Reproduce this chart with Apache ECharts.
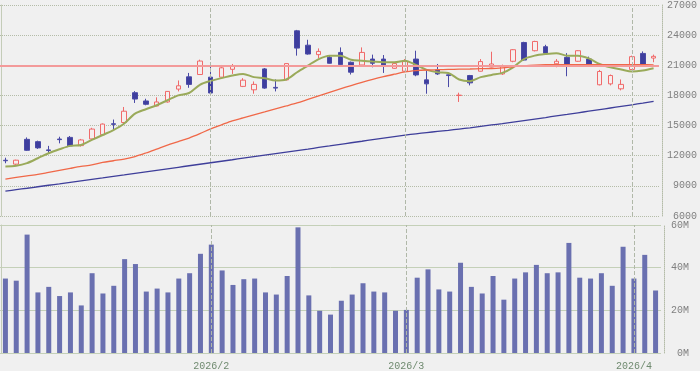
<!DOCTYPE html>
<html>
<head>
<meta charset="utf-8">
<script src="https://cdn.jsdelivr.net/npm/echarts@6/dist/echarts.min.js"></script>
<style>
html,body{margin:0;padding:0;background:#f0f0f0;}
#chart{width:700px;height:371px;}
</style>
</head>
<body>
<div id="chart"></div>
<script>
// ---- data ----
const dates = [
 '2026/1/5','2026/1/6','2026/1/7','2026/1/8','2026/1/9','2026/1/13','2026/1/14','2026/1/15','2026/1/16','2026/1/19',
 '2026/1/20','2026/1/21','2026/1/22','2026/1/23','2026/1/26','2026/1/27','2026/1/28','2026/1/29','2026/1/30',
 '2026/2/2','2026/2/3','2026/2/4','2026/2/5','2026/2/6','2026/2/9','2026/2/10','2026/2/12','2026/2/13','2026/2/16',
 '2026/2/17','2026/2/18','2026/2/19','2026/2/20','2026/2/24','2026/2/25','2026/2/26','2026/2/27',
 '2026/3/2','2026/3/3','2026/3/4','2026/3/5','2026/3/6','2026/3/9','2026/3/10','2026/3/11','2026/3/12','2026/3/13',
 '2026/3/16','2026/3/17','2026/3/18','2026/3/19','2026/3/23','2026/3/24','2026/3/25','2026/3/26','2026/3/27',
 '2026/3/30','2026/3/31',
 '2026/4/1','2026/4/2','2026/4/3'
];
const opens  = [11550,11160,13630,13400,12580,13660,13825,13005,13670,14090,15180,15305,18270,17450,16950,17350,18630,19850,20080,19820,19820,20600,18900,18560,20640,18800,19550,24430,23000,22060,21790,22280,21300,21030,21620,21620,20700,20410,21620,19550,20540,20050,17990,19980,20410,20830,20140,21400,23270,22450,22850,21150,21790,21400,21620,19060,19150,18660,20580,22180,21720];
const closes = [11500,11555,12540,12780,12520,13600,12980,13570,14650,15150,15120,16430,17640,17120,17350,18400,18960,19100,21420,18240,20750,20970,19520,19100,18730,18730,21170,22710,22120,22380,21200,21070,20310,22280,21200,21030,21170,21370,20040,19150,20140,19980,18030,19250,21370,21130,20970,22550,21520,23370,22210,21400,20970,22450,21100,20380,19980,19100,21860,20970,21890];
const lows   = [11250,10960,12480,12680,12190,13230,12910,12910,13570,13960,14610,15250,17250,17020,16920,17280,18400,18760,20040,18210,19800,20140,18830,18170,18660,18400,19500,21960,22060,21720,21170,21030,20080,20970,20800,20240,20650,20380,19910,18170,20040,18830,17350,19000,20380,20800,20040,21300,21460,22380,22060,20800,19910,21350,20870,19000,19000,18500,20540,20870,21300];
const highs  = [11800,11600,13820,13500,12980,13890,13960,13670,14780,15210,15600,16850,18430,17670,17810,18430,19490,20240,21560,20970,21030,21130,19720,19390,20730,19590,21200,24520,23540,22680,21960,22780,21370,22780,22060,22020,21200,21620,22450,20480,21130,20080,18270,20040,21620,22350,21070,22610,23340,23440,23040,21620,22210,22500,21860,20540,20080,19590,21960,22380,22060];
const ma5    = [10930,11000,11260,11750,12250,12640,12980,13070,13570,14060,14550,15210,16190,16630,17020,17520,18010,18240,19060,19450,19720,19980,20140,19820,19720,19490,19590,20310,20970,21620,21960,21960,21560,21460,21370,21300,21300,21460,21030,20540,20310,20240,19590,19420,19820,20040,20240,20800,21620,21960,22120,22210,21960,21960,21690,21130,20800,20580,20380,20480,20700];
const ma25   = [9680,9850,10000,10140,10340,10540,10740,10930,11080,11330,11500,11670,11920,12270,12660,13060,13400,13750,14190,14680,15080,15470,15770,16070,16360,16660,16950,17250,17600,17950,18300,18650,18980,19300,19600,19870,20110,20340,20460,20530,20560,20590,20610,20630,20660,20680,20750,20850,20950,21020,21060,21070,21070,21070,21070,21070,21070,21070,21070,21060,21050];
const ma75   = [8470,8620,8760,8910,9060,9200,9350,9500,9650,9790,9940,10090,10250,10400,10550,10700,10850,11000,11150,11300,11450,11600,11760,11910,12060,12210,12360,12510,12660,12820,12970,13130,13290,13440,13600,13750,13900,14050,14180,14300,14420,14530,14650,14780,14920,15060,15200,15350,15500,15650,15800,15960,16110,16270,16430,16590,16750,16910,17070,17230,17400];
const volumesM = [34.9,33.9,55.5,28.4,31.0,26.7,28.4,22.3,37.4,27.9,31.5,44.0,41.7,28.8,30.2,28.4,34.9,37.4,46.5,50.8,38.7,31.9,34.6,34.9,28.4,27.4,36.1,58.9,27.0,19.8,18.0,24.5,27.4,32.7,28.8,28.4,19.8,20.2,35.3,39.2,29.8,28.8,42.3,31.0,27.9,36.1,25.0,34.9,37.8,41.3,37.4,37.8,51.6,35.3,34.9,37.4,31.5,49.8,34.9,46.0,29.3];
const refPrice = [21000];
const monthTickIdx = [19, 37, 58];
const monthTickLabels = ['2026/2', '2026/3', '2026/4'];
const priceTicks = {min: 6000, max: 27000, interval: 3000};
const volTicks = {min: 0, max: 60, interval: 20};

// ---- build ----
const candleData = opens.map((o, i) => [o, closes[i], lows[i], highs[i]]);
const labelFont = {fontFamily: 'Liberation Mono', fontSize: 10};
const gridLineCol = '#b4bca8';
const vLines = monthTickIdx.map(i => ({xAxis: dates[i], lineStyle: {type: 'dashed', color: '#b0b8a8', width: 1}}));

const chart = echarts.init(document.getElementById('chart'), null, {renderer: 'canvas'});
chart.setOption({
  animation: false,
  backgroundColor: '#f0f0f0',
  grid: [
    {left: 0, right: 39, top: 3, height: 213},
    {left: 0, right: 39, top: 225, height: 129}
  ],
  xAxis: [
    {type: 'category', gridIndex: 0, data: dates, boundaryGap: true,
     axisLine: {show: false}, axisTick: {show: false}, axisLabel: {show: false}, splitLine: {show: false}},
    {type: 'category', gridIndex: 1, data: dates, boundaryGap: true,
     axisLine: {show: false}, axisTick: {show: false}, splitLine: {show: false},
     axisLabel: Object.assign({
       color: '#6f8a6f', margin: 8,
       interval: (idx) => monthTickIdx.indexOf(idx) >= 0,
       formatter: (v, idx) => { const k = monthTickIdx.indexOf(idx); return k >= 0 ? monthTickLabels[k] : ''; }
     }, labelFont)}
  ],
  yAxis: [
    {type: 'value', gridIndex: 0, position: 'right', offset: 3,
     min: priceTicks.min, max: priceTicks.max, interval: priceTicks.interval,
     axisLine: {show: true, lineStyle: {color: gridLineCol, type: 'dotted'}}, axisTick: {show: false},
     axisLabel: Object.assign({color: '#808080', align: 'right', margin: 35, formatter: v => String(v)}, labelFont),
     splitLine: {show: true, lineStyle: {color: gridLineCol, type: 'dotted', width: 1}}},
    {type: 'value', gridIndex: 1, position: 'right', offset: 3,
     min: volTicks.min, max: volTicks.max, interval: volTicks.interval,
     axisLine: {show: true, lineStyle: {color: gridLineCol, type: 'dotted'}}, axisTick: {show: false},
     axisLabel: Object.assign({color: '#808080', align: 'right', margin: 25, formatter: v => v + 'M'}, labelFont),
     splitLine: {show: true, lineStyle: {color: '#c4d0b8', type: 'solid', width: 1}}},
    {type: 'value', gridIndex: 0, position: 'left', offset: -1,
     min: priceTicks.min, max: priceTicks.max, interval: priceTicks.interval,
     axisLine: {show: true, lineStyle: {color: '#c4ccb8'}}, axisTick: {show: false}, axisLabel: {show: false}, splitLine: {show: false}},
    {type: 'value', gridIndex: 1, position: 'left', offset: -1,
     min: volTicks.min, max: volTicks.max, interval: volTicks.interval,
     axisLine: {show: true, lineStyle: {color: '#c4ccb8'}}, axisTick: {show: false}, axisLabel: {show: false}, splitLine: {show: false}}
  ],
  series: [
    {type: 'candlestick', xAxisIndex: 0, yAxisIndex: 0, data: candleData, barWidth: 5,
     itemStyle: {color: '#f6eeee', color0: '#3e3e9e', borderColor: '#f06a6a', borderColor0: '#4a4aa6', borderWidth: 1},
     markLine: {silent: true, symbol: ['none', 'none'], label: {show: false},
       data: [{yAxis: refPrice[0], lineStyle: {type: 'solid', color: '#f39a9a', width: 2}}].concat(vLines)}},
    {type: 'line', name: 'MA5', xAxisIndex: 0, yAxisIndex: 0, data: ma5, symbol: 'none', smooth: 0.3,
     lineStyle: {color: '#9aaa5a', width: 2}},
    {type: 'line', name: 'MA25', xAxisIndex: 0, yAxisIndex: 0, data: ma25, symbol: 'none', smooth: 0.3,
     lineStyle: {color: '#f06848', width: 1.3}},
    {type: 'line', name: 'MA75', xAxisIndex: 0, yAxisIndex: 0, data: ma75, symbol: 'none', smooth: 0.3,
     lineStyle: {color: '#3e3e9a', width: 1.3}},
    {type: 'bar', xAxisIndex: 1, yAxisIndex: 1, data: volumesM, barWidth: 5,
     itemStyle: {color: '#6a70b0'},
     markLine: {silent: true, symbol: ['none', 'none'], label: {show: false}, data: vLines}}
  ]
});
</script>
</body>
</html>
